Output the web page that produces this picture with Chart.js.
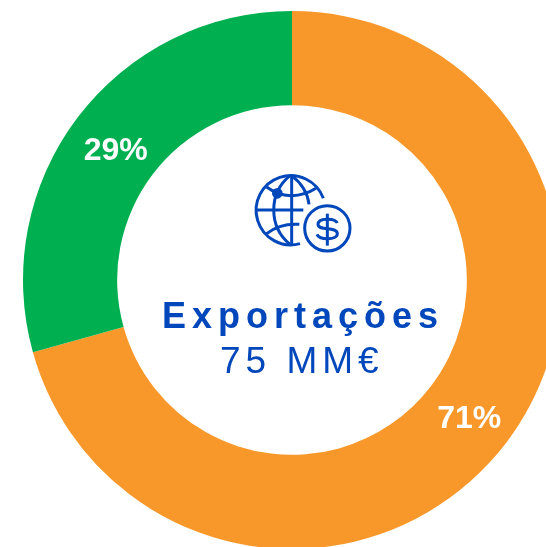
<!DOCTYPE html>
<html lang="pt">
<head>
<meta charset="utf-8">
<title>Exportações</title>
<script src="https://cdn.jsdelivr.net/npm/chart.js@4"></script>
<style>
  html, body { margin: 0; padding: 0; background: #fff; overflow: hidden; }
  #wrap { position: relative; width: 546px; height: 547px; overflow: hidden; }
  #grafico { position: absolute; left: 0; top: 0; }
  #icone { position: absolute; left: 240px; top: 165px; }
</style>
</head>
<body>
<div id="wrap">
  <canvas id="grafico"></canvas>
  <svg id="icone" width="125" height="95" viewBox="0 0 375 285" fill="none" stroke="#0047BB" stroke-width="9">
    <path d="M250 100 A104 104 0 1 0 180 236"/>
    <path d="M155 32 V238"/>
    <path d="M50 135 H190"/>
    <path d="M150 32 C85 85 85 185 150 238"/>
    <path d="M155 32 C185 55 203 85 207 118"/>
    <path d="M80 66 C125 100 180 100 228 70"/>
    <path d="M80 206 C110 182 145 176 178 178"/>
    <circle cx="112" cy="85" r="16" fill="#0047BB" stroke="none"/>
    <circle cx="262" cy="190" r="68"/>
    <path d="M262 146 V242"/>
    <path d="M292 174 C285 158 234 158 234 178 C234 200 292 182 292 206 C292 226 238 226 231 208"/>
  </svg>
</div>
<script>
// Dados do gráfico
const categorias = ['Laranja', 'Verde'];
const valores = [53, 22];
const rotulos = ['71%', '29%'];
const cores = ['#F9982A', '#00B050'];

// Texto do centro
const titulo = 'Exportações';
const subtitulo = '75 MM€';

const canvas = document.getElementById('grafico');
canvas.style.width = '584px';
canvas.style.height = '560px';
canvas.width = 584;
canvas.height = 560;

// Escreve as percentagens e o texto central depois de desenhar os arcos
const textoPlugin = {
  id: 'textoPlugin',
  afterDraw(chart) {
    const ctx = chart.ctx;
    ctx.save();
    ctx.textBaseline = 'alphabetic';

    ctx.fillStyle = '#fff';
    ctx.font = 'bold 32px "Liberation Sans"';
    ctx.textAlign = 'center';
    chart.getDatasetMeta(0).data.forEach((arco, i) => {
      const p = arco.tooltipPosition();
      ctx.fillText(rotulos[i], p.x + 0.5, p.y + 14);
    });

    ctx.fillStyle = '#0047BB';
    ctx.textAlign = 'left';
    ctx.font = 'bold 36px "Liberation Sans"';
    ctx.letterSpacing = '6px';
    ctx.fillText(titulo, 162, 328);
    ctx.font = '37px "Liberation Sans"';
    ctx.letterSpacing = '5px';
    ctx.fillText(subtitulo, 220, 373);
    ctx.restore();
  },
};

new Chart(canvas, {
  type: 'doughnut',
  data: {
    labels: categorias,
    datasets: [{ data: valores, backgroundColor: cores, borderWidth: 0 }],
  },
  options: {
    responsive: false,
    animation: false,
    radius: 269,
    cutout: '65%',
    layout: { padding: 0 },
    plugins: { legend: { display: false }, tooltip: { enabled: false } },
  },
  plugins: [textoPlugin],
});
</script>
</body>
</html>
